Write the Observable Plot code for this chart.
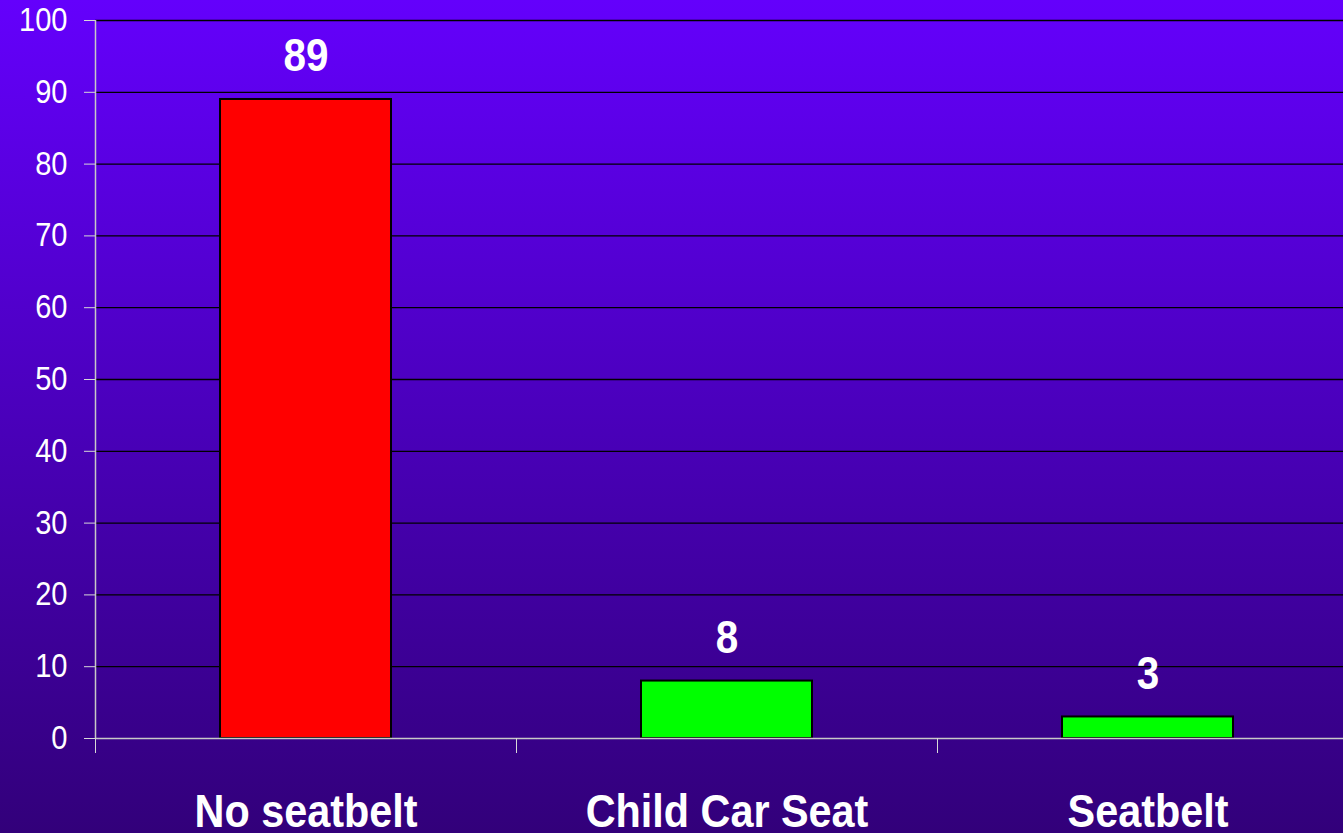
<!DOCTYPE html>
<html><head><meta charset="utf-8">
<script src="https://cdn.jsdelivr.net/npm/d3@7"></script>
<script src="https://cdn.jsdelivr.net/npm/@observablehq/plot@0.6"></script>
<style>
html,body{margin:0;padding:0;}
body{width:1343px;height:833px;overflow:hidden;background:linear-gradient(to bottom,#6400fc 0%,#4a00bb 50%,#32007a 100%);}
#chart svg{display:block;}
</style></head><body><div id="chart"></div>
<script>
const categories = ["No seatbelt", "Child Car Seat", "Seatbelt"];
const values = [89, 8, 3];
const barColors = ["#ff0000", "#00ff00", "#00ff00"];
const yTicks = [0, 10, 20, 30, 40, 50, 60, 70, 80, 90, 100];

const data = categories.map((c, i) => ({category: c, index: i, value: values[i], color: barColors[i]}));
const boundaries = categories.map((c, i) => i).concat([categories.length]);
const centers = categories.map((c, i) => i + 0.5);

const chart = Plot.plot({
  width: 1343, height: 833,
  marginTop: 20, marginBottom: 95, marginLeft: 95, marginRight: -15,
  style: {background: "transparent", color: "white", fontFamily: "'Liberation Sans', Arial, sans-serif"},
  x: {domain: [0, categories.length]},
  y: {domain: [0, 100]},
  color: {type: "identity"},
  marks: [
    Plot.gridY(yTicks.filter(d => d > 0), {stroke: "black", strokeOpacity: 1, strokeWidth: 1.3}),
    Plot.rectY(data, {x1: "index", x2: d => d.index + 1, y: "value", fill: "color", stroke: "black", strokeWidth: 2, insetLeft: 125, insetRight: 125}),
    Plot.text(data, {x: d => d.index + 0.5, y: "value", text: d => String(d.value), dy: -28, lineAnchor: "bottom", fill: "white", fontSize: 46, fontWeight: "bold"}),
    Plot.axisY({ticks: yTicks, tickSize: 11, tickPadding: 17, fontSize: 33, stroke: "#d8d8d8", fill: "white", label: null}),
    Plot.ruleY([0], {stroke: "#c8c8c8", strokeWidth: 1.5}),
    Plot.ruleX([0], {stroke: "#c8c8c8", strokeWidth: 1.5}),
    Plot.axisX({ticks: boundaries, tickSize: 15, tickFormat: () => "", stroke: "#d8d8d8", label: null}),
    Plot.axisX({ticks: centers, tickSize: 0, tickPadding: 55, tickFormat: v => categories[Math.floor(v)], fontSize: 47, fontWeight: "bold", fill: "white", label: null})
  ]
});
document.getElementById("chart").appendChild(chart);
chart.querySelectorAll("text").forEach(t => {
  const L = t.getComputedTextLength();
  if (L > 0) {
    t.setAttribute("textLength", (L * 0.88).toFixed(1));
    t.setAttribute("lengthAdjust", "spacingAndGlyphs");
  }
});
</script>
</body></html>
